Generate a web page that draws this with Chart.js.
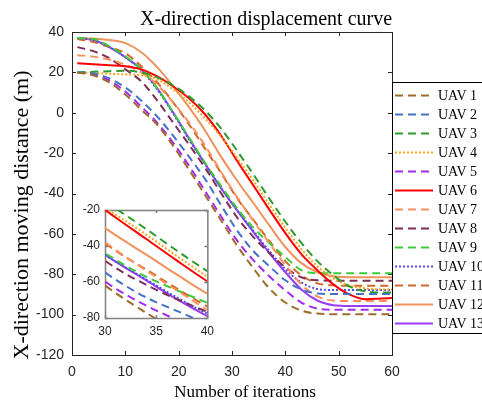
<!DOCTYPE html>
<html>
<head>
<meta charset="utf-8">
<script src="https://cdn.jsdelivr.net/npm/chart.js@4.4.0/dist/chart.umd.min.js"></script>
<style>
  body { margin: 0; background: #fff; }
  #wrap { position: relative; width: 482px; height: 405px; overflow: hidden; }
  #main { position: absolute; left: 0; top: 0; }
  #inset { position: absolute; left: 75px; top: 195px; }
</style>
</head>
<body>
<div id="wrap">
  <canvas id="main" width="482" height="405"></canvas>
  <canvas id="inset" width="145" height="155"></canvas>
</div>
<script>
// iterations sampled from the figure
const iterations = [1, 4, 7, 10, 13, 16, 19, 22, 25, 28, 31, 34, 37, 40, 43, 46, 49, 52, 55, 58, 60];

// X displacement (m) of each UAV
const uav1  = [20, 18.5, 15, 9, 1.5, -6, -16.5, -28.5, -41, -53.5, -66, -77, -87, -94, -98, -99.5, -99.8, -99.8, -99.8, -99.8, -99.8];
const uav2  = [20, 19.5, 17, 12.5, 6, -2, -11.5, -22, -33, -46, -58.5, -68.5, -76, -83, -87.5, -89.5, -89.8, -89.8, -89.8, -89.8, -89.8];
const uav3  = [20, 20.3, 20.6, 20.8, 20, 17.5, 13.5, 8, 1, -8, -19, -30.5, -42.5, -54, -64.5, -73.5, -80.5, -86, -88.5, -89, -89];
const uav4  = [20, 19.7, 19.3, 19, 18.6, 16.5, 11.5, 5, -3, -12, -22.5, -33.5, -45.5, -57, -67.5, -76, -82, -85.5, -87, -87.5, -87.5];
const uav5  = [20, 19, 16, 10.5, 3, -5, -15, -26.5, -39, -51.5, -63.5, -73, -81, -88, -94, -97, -97.6, -97.6, -97.6, -97.6, -97.6];
const uav6  = [24.5, 24, 23.5, 23, 21.5, 18, 13, 7, -1, -11.5, -24, -36, -48, -59.6, -70, -78, -85, -90, -92.4, -92, -91.8];
const uav7  = [28.5, 27.8, 26.3, 23.8, 20, 13.8, 5, -5, -16.5, -29.5, -42, -53.5, -64.5, -75.5, -85, -91, -93, -93.3, -93.3, -93.3, -93.3];
const uav8  = [32.5, 30.5, 27, 21.5, 15.5, 6, -5, -16, -27.5, -40, -52, -61.5, -69.5, -76.5, -81.5, -83, -83.2, -83.2, -83.2, -83.2, -83.2];
const uav9  = [37, 36.5, 33, 28, 21.5, 12, 0, -12.5, -25, -36.5, -47.5, -57, -64.5, -71.5, -78, -79.5, -79.5, -79.5, -79.5, -79.5, -79.5];
const uav10 = [37, 36, 32.5, 27.5, 21, 11.5, -0.5, -13.5, -25.5, -37.5, -48.5, -58.5, -68.5, -77.5, -84, -87.3, -87.8, -87.8, -87.8, -87.8, -87.8];
const uav11 = [36.5, 35, 32.5, 29.5, 23, 15, 5, -6, -18, -30, -42.5, -53, -63.5, -73.5, -80.5, -84.5, -85.5, -85.7, -85.7, -85.7, -85.7];
const uav12 = [37, 36.8, 36, 34.5, 30, 22.5, 13, 2.5, -9, -22, -33.8, -44.7, -55.8, -66.5, -74.5, -79, -81, -81.5, -81.5, -81.5, -81.5];
const uav13 = [37, 36, 32.5, 27.5, 21.5, 12, 0, -13, -25.5, -37.5, -48.5, -59, -69.5, -79, -87.5, -93, -95.3, -95.7, -95.7, -95.7, -95.7];

const uavNames = ['UAV 1', 'UAV 2', 'UAV 3', 'UAV 4', 'UAV 5', 'UAV 6', 'UAV 7',
                  'UAV 8', 'UAV 9', 'UAV 10', 'UAV 11', 'UAV 12', 'UAV 13'];
const uavSeries = [uav1, uav2, uav3, uav4, uav5, uav6, uav7, uav8, uav9, uav10, uav11, uav12, uav13];

const DASH = [8, 5];
const DOT = [2, 2];
const uavColors = ['#9E6B2A', '#4472C4', '#2E9B2E', '#FFA31A', '#A52AF0', '#FF0000', '#FF8F5A',
                   '#7E2F56', '#3BCB3B', '#5050E0', '#D0692A', '#F0925C', '#9B3CF5'];
const uavDashes = [DASH, DASH, DASH, DOT, DASH, [], DASH, DASH, DASH, DOT, DASH, [], []];

const serif = "'Liberation Serif', 'Times New Roman', serif";
const sans = "'Liberation Sans', Arial, sans-serif";

function buildDatasets() {
    return uavSeries.map((series, i) => ({
        label: uavNames[i],
        data: iterations.map((it, j) => ({ x: it, y: series[j] })),
        borderColor: uavColors[i],
        borderDash: uavDashes[i],
        borderWidth: 2,
        pointRadius: 0,
        fill: false
    }));
}

// box + inward ticks, MATLAB style
const frame = {
    id: 'frame',
    beforeDatasetsDraw(chart, args, opts) {
        const { ctx, chartArea: a, scales } = chart;
        ctx.save();
        ctx.fillStyle = '#fff';
        ctx.fillRect(a.left, a.top, a.right - a.left, a.bottom - a.top);
        ctx.strokeStyle = opts.color;
        ctx.lineWidth = opts.width;
        ctx.setLineDash([]);
        ctx.strokeRect(a.left + 0.5, a.top + 0.5, a.right - a.left, a.bottom - a.top);
        ctx.beginPath();
        scales.x.ticks.forEach(t => {
            const px = Math.round(scales.x.getPixelForValue(t.value)) + 0.5;
            ctx.moveTo(px, a.bottom); ctx.lineTo(px, a.bottom - opts.tick);
            ctx.moveTo(px, a.top); ctx.lineTo(px, a.top + opts.tick);
        });
        scales.y.ticks.forEach(t => {
            const py = Math.round(scales.y.getPixelForValue(t.value)) + 0.5;
            ctx.moveTo(a.left, py); ctx.lineTo(a.left + opts.tick, py);
            ctx.moveTo(a.right, py); ctx.lineTo(a.right - opts.tick, py);
        });
        ctx.stroke();
        ctx.restore();
    }
};

// title, axis labels and the boxed legend on the right
const decorations = {
    id: 'decorations',
    afterDraw(chart) {
        const { ctx } = chart;
        ctx.save();
        ctx.fillStyle = '#000';
        ctx.textAlign = 'center';
        ctx.textBaseline = 'middle';
        ctx.font = '20px ' + serif;
        ctx.fillText('X-direction displacement curve', 266, 20);
        ctx.font = '17px ' + serif;
        ctx.fillText('Number of iterations', 245, 393);
        ctx.save();
        ctx.translate(22, 215);
        ctx.rotate(-Math.PI / 2);
        ctx.font = '22px ' + serif;
        ctx.fillText('X-direction moving distance (m)', 0, 0);
        ctx.restore();

        // legend
        ctx.fillStyle = '#fff';
        ctx.fillRect(392, 82, 100, 251);
        ctx.strokeStyle = '#000';
        ctx.lineWidth = 1;
        ctx.strokeRect(392.5, 82.5, 100, 251);
        ctx.textAlign = 'left';
        ctx.font = '14px ' + serif;
        chart.data.datasets.forEach((ds, i) => {
            const y = Math.round(95 + i * 19.03) + 0.5;
            ctx.strokeStyle = ds.borderColor;
            ctx.lineWidth = ds.borderWidth;
            ctx.setLineDash(ds.borderDash);
            ctx.beginPath();
            ctx.moveTo(395, y);
            ctx.lineTo(433, y);
            ctx.stroke();
            ctx.setLineDash([]);
            ctx.fillStyle = '#000';
            ctx.fillText(ds.label, 438, y + 1);
        });
        ctx.restore();
    }
};

new Chart(document.getElementById('main'), {
    type: 'line',
    data: { datasets: buildDatasets() },
    options: {
        responsive: false,
        animation: false,
        layout: { padding: { left: 0, right: 90, top: 32, bottom: 0 } },
        plugins: {
            legend: { display: false },
            tooltip: { enabled: false },
            frame: { color: '#262626', width: 1, tick: 4 }
        },
        elements: { line: { cubicInterpolationMode: 'monotone' } },
        scales: {
            x: {
                type: 'linear', min: 0, max: 60,
                grid: { display: false, drawTicks: false },
                border: { display: false },
                ticks: { stepSize: 10, padding: 9, maxRotation: 0, color: '#262626', font: { family: sans, size: 14 } },
                afterFit: s => { s.height = 50; }
            },
            y: {
                min: -120, max: 40,
                grid: { display: false, drawTicks: false },
                border: { display: false },
                ticks: { stepSize: 20, padding: 8, color: '#262626', font: { family: sans, size: 14 } },
                afterFit: s => { s.width = 72; }
            }
        }
    },
    plugins: [frame, decorations]
});

// zoomed inset, iterations 30-40
new Chart(document.getElementById('inset'), {
    type: 'line',
    data: { datasets: buildDatasets() },
    options: {
        responsive: false,
        animation: false,
        layout: { padding: { left: 0, right: 8, top: 15, bottom: 0 } },
        plugins: {
            legend: { display: false },
            tooltip: { enabled: false },
            frame: { color: '#808080', width: 1.5, tick: 3 }
        },
        elements: { line: { cubicInterpolationMode: 'monotone' } },
        scales: {
            x: {
                type: 'linear', min: 30, max: 40,
                grid: { display: false, drawTicks: false },
                border: { display: false },
                ticks: { stepSize: 5, padding: 6, maxRotation: 0, color: '#262626', font: { family: sans, size: 12 } },
                afterFit: s => { s.height = 32; }
            },
            y: {
                min: -80, max: -20,
                grid: { display: false, drawTicks: false },
                border: { display: false },
                ticks: { stepSize: 20, padding: 5, color: '#262626', font: { family: sans, size: 12 } },
                afterFit: s => { s.width = 30; }
            }
        }
    },
    plugins: [frame]
});
</script>
</body>
</html>
